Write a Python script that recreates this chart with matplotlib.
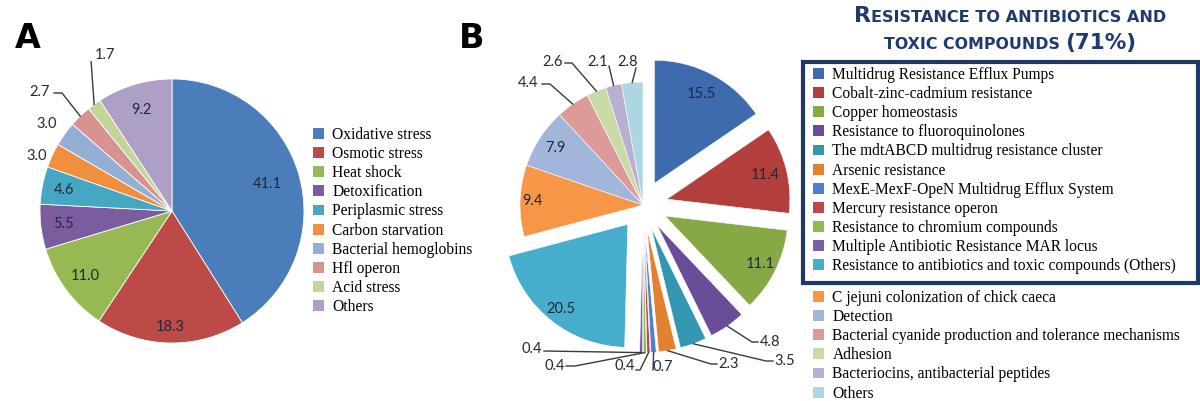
import matplotlib
matplotlib.use("Agg")
import matplotlib.pyplot as plt
import numpy as np
from matplotlib.patches import Patch, Rectangle
from matplotlib.offsetbox import TextArea, HPacker, AnnotationBbox

# ---------------- data ----------------
a_labels = ["Oxidative stress", "Osmotic stress", "Heat shock", "Detoxification",
            "Periplasmic stress", "Carbon starvation", "Bacterial hemoglobins",
            "Hfl operon", "Acid stress", "Others"]
a_values = [41.1, 18.3, 11.0, 5.5, 4.6, 3.0, 3.0, 2.7, 1.7, 9.2]
a_colors = ["#4A7DBA", "#BC4A47", "#97B954", "#7A5C9F", "#45A7C2", "#F28F3F",
            "#93AFD6", "#D89391", "#C2D69A", "#AE9FC7"]

b_labels = ["Multidrug Resistance Efflux Pumps", "Cobalt-zinc-cadmium resistance",
            "Copper homeostasis", "Resistance to fluoroquinolones",
            "The mdtABCD multidrug resistance cluster", "Arsenic resistance",
            "MexE-MexF-OpeN Multidrug Efflux System", "Mercury resistance operon",
            "Resistance to chromium compounds", "Multiple Antibiotic Resistance MAR locus",
            "Resistance to antibiotics and toxic compounds (Others)",
            "C jejuni colonization of chick caeca", "Detection",
            "Bacterial cyanide production and tolerance mechanisms", "Adhesion",
            "Bacteriocins, antibacterial peptides", "Others"]
b_values = [15.5, 11.4, 11.1, 4.8, 3.5, 2.3, 0.7, 0.4, 0.4, 0.4, 20.5,
            9.4, 7.9, 4.4, 2.6, 2.1, 2.8]
b_colors = ["#3E6BAD", "#B33F3C", "#86A845", "#6A4D98", "#3497B2", "#E4812F",
            "#4F7FD0", "#C0464D", "#8DBB4E", "#7A5FA8", "#47ADCC",
            "#F79646", "#A2B6DC", "#DC9B99", "#C8DAA6", "#BBAED3", "#ADD6E2"]
b_n_resist = 11
title_line1 = [("R", 16), ("ESISTANCE TO ANTIBIOTICS AND", 11.6)]
title_line2 = [("TOXIC COMPOUNDS ", 11.4), ("(71%)", 15.5)]

# ---------------- layout ----------------
W, H = 1200, 401
fig = plt.figure(figsize=(W / 100, H / 100), dpi=100)
fig.patch.set_facecolor("white")

NUMFONT = "Lato"
SERIF = "Liberation Serif"
NUMCOL = "#1e2a3a"
LEADCOL = "#3a3a3a"
LEGSIZE = 11.2


def px_axes(cx, cy, half):
    return fig.add_axes([(cx - half) / W, (H - cy - half) / H, 2 * half / W, 2 * half / H])


def mid_angles(wedges):
    return [np.deg2rad((w.theta1 + w.theta2) / 2) for w in wedges]


# ----- Panel A -----
ACX, ACY, AR, AHALF = 172, 211, 132, 150
axA = px_axes(ACX, ACY, AHALF)
wA, _ = axA.pie(a_values, colors=a_colors, startangle=90, counterclock=False, radius=1,
                wedgeprops=dict(edgecolor="white", linewidth=0.6))
axA.set_xlim(-AHALF / AR, AHALF / AR)
axA.set_ylim(-AHALF / AR, AHALF / AR)
axA.axis("off")


def pA(px, py):
    return ((px - ACX) / AR, (ACY - py) / AR)


angA = mid_angles(wA)
inside_A = {0: 0.75, 1: 0.88, 2: 0.82, 3: 0.83, 4: 0.83, 9: 0.8}
for i, r in inside_A.items():
    axA.text(r * np.cos(angA[i]), r * np.sin(angA[i]), f"{a_values[i]:.1f}",
             ha="center", va="center", fontsize=10.5, family=NUMFONT, color=NUMCOL)
outside_A = {5: ((37, 156), None), 6: ((47, 124), None),
             7: ((40, 92), [(54, 93), (62, 93)]), 8: ((105, 55), [(91, 60)])}
for i, (tp, lead) in outside_A.items():
    axA.text(*pA(*tp), f"{a_values[i]:.1f}", ha="center", va="center", fontsize=10.5,
             family=NUMFONT, color=NUMCOL)
    if lead:
        pts = [pA(*p) for p in lead] + [(np.cos(angA[i]), np.sin(angA[i]))]
        xs, ys = zip(*pts)
        axA.plot(xs, ys, color=LEADCOL, lw=1.0)

fig.text(28 / W, 1 - 38 / H, "A", fontsize=24, fontweight="bold", family="DejaVu Sans",
         ha="center", va="center")

legA = fig.legend([Patch(facecolor=c) for c in a_colors], a_labels,
                  loc="upper left", bbox_to_anchor=(313 / W, 1 - 127 / H),
                  frameon=False, prop=dict(family=SERIF, size=LEGSIZE),
                  handlelength=0.7, handleheight=0.7, handletextpad=0.55,
                  labelspacing=0.2, borderpad=0, borderaxespad=0)

# ----- Panel B -----
BCX, BCY, BR, BHALF = 643, 205, 123, 178
axB = px_axes(BCX, BCY, BHALF)
explode = [0.2 if i < b_n_resist else 0.0 for i in range(len(b_values))]
wB, _ = axB.pie(b_values, colors=b_colors, startangle=90, counterclock=False, radius=1,
                explode=explode, wedgeprops=dict(edgecolor="white", linewidth=0.4))
axB.set_xlim(-BHALF / BR, BHALF / BR)
axB.set_ylim(-BHALF / BR, BHALF / BR)
axB.axis("off")


def pB(px, py):
    return ((px - BCX) / BR, (BCY - py) / BR)


angB = mid_angles(wB)
inside_B = {0: 0.82, 1: 0.82, 2: 0.87, 10: 0.88, 11: 0.9, 12: 0.85}
for i, r in inside_B.items():
    rr = r + explode[i]
    axB.text(rr * np.cos(angB[i]), rr * np.sin(angB[i]), f"{b_values[i]:.1f}",
             ha="center", va="center", fontsize=10.5, family=NUMFONT, color=NUMCOL)
outside_B = {
    3: ((770, 342), [(758, 342), (752, 342)]),
    4: ((785, 361), [(773, 361), (766, 361)]),
    5: ((729, 364), [(717, 364), (711, 364)]),
    6: ((663, 367), [(653, 370)]),
    7: ((625, 366), [(636, 370), (640, 370)]),
    8: ((555, 366), [(566, 366), (575, 366)]),
    9: ((532, 349), [(544, 351)]),
    13: ((528, 83), [(542, 84), (550, 84)]),
    14: ((553, 62), [(565, 63), (572, 63)]),
    15: ((598, 62), [(609, 66)]),
    16: ((628, 62), [(636, 68)]),
}
for i, (tp, lead) in outside_B.items():
    axB.text(*pB(*tp), f"{b_values[i]:.1f}", ha="center", va="center", fontsize=10.5,
             family=NUMFONT, color=NUMCOL)
    r = 1.0 + explode[i]
    pts = [pB(*p) for p in lead] + [(r * np.cos(angB[i]), r * np.sin(angB[i]))]
    xs, ys = zip(*pts)
    axB.plot(xs, ys, color=LEADCOL, lw=1.0)

fig.text(472 / W, 1 - 38 / H, "B", fontsize=24, fontweight="bold", family="DejaVu Sans",
         ha="center", va="center")

# title in small caps
TCOL = "#1F3A6E"
for parts, yc in ((title_line1, 16), (title_line2, 43)):
    box = HPacker(children=[TextArea(t, textprops=dict(size=s, weight="bold", color=TCOL,
                                                          family="DejaVu Sans"))
                            for t, s in parts], align="baseline", pad=0, sep=0)
    ab = AnnotationBbox(box, (1010 / W, 1 - yc / H), xycoords="figure fraction",
                        box_alignment=(0.5, 0.5), frameon=False)
    fig.add_artist(ab)

# boxed legend
fig.add_artist(Rectangle((803 / W, 1 - 283 / H), (1198 - 803) / W, (283 - 62) / H,
                         transform=fig.transFigure, fill=False, edgecolor="#1F3864",
                         linewidth=3))
handles_b = [Patch(facecolor=c) for c in b_colors]
common = dict(loc="upper left", frameon=False, prop=dict(family=SERIF, size=LEGSIZE),
              handlelength=0.7, handleheight=0.7, handletextpad=0.55,
              labelspacing=0.2, borderpad=0, borderaxespad=0)
legB1 = fig.legend(handles_b[:b_n_resist], b_labels[:b_n_resist],
                   bbox_to_anchor=(813 / W, 1 - 67 / H), **common)
legB2 = fig.legend(handles_b[b_n_resist:], b_labels[b_n_resist:],
                   bbox_to_anchor=(813 / W, 1 - 290 / H), **common)

fig.savefig("out.png", dpi=100, facecolor="white")
